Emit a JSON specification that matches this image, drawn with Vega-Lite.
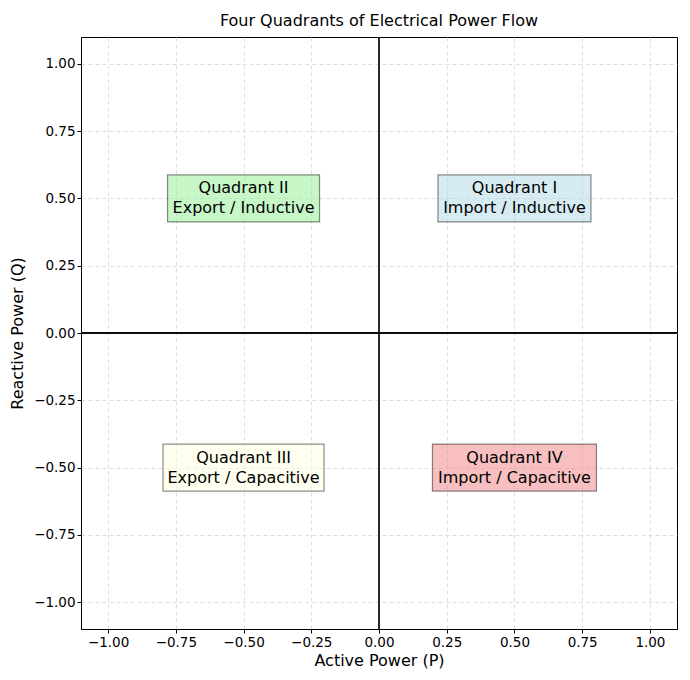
{
  "$schema": "https://vega.github.io/schema/vega-lite/v6.json",
  "width": 596,
  "height": 592,
  "autosize": "none",
  "padding": {"left": 81, "top": 37, "right": 13, "bottom": 51},
  "background": "white",
  "title": {
    "text": "Four Quadrants of Electrical Power Flow",
    "font": "DejaVu Sans", "fontSize": 16, "fontWeight": "normal", "color": "black",
    "offset": 7
  },
  "config": {
    "font": "DejaVu Sans",
    "view": {"stroke": "black", "strokeWidth": 1},
    "axis": {
      "domainColor": "black", "tickColor": "black", "tickSize": 4,
      "labelFont": "DejaVu Sans", "labelFontSize": 13.5, "labelColor": "black",
      "titleFont": "DejaVu Sans", "titleFontSize": 16, "titleFontWeight": "normal", "titleColor": "black",
      "gridColor": "#d6d6d6", "gridDash": [4, 3], "gridWidth": 0.8
    }
  },
  "data": {
    "values": [
      {"P": 0.5, "Q": 0.5, "quadrant": "I", "label": ["Quadrant I", "Import / Inductive"]},
      {"P": -0.5, "Q": 0.5, "quadrant": "II", "label": ["Quadrant II", "Export / Inductive"]},
      {"P": -0.5, "Q": -0.5, "quadrant": "III", "label": ["Quadrant III", "Export / Capacitive"]},
      {"P": 0.5, "Q": -0.5, "quadrant": "IV", "label": ["Quadrant IV", "Import / Capacitive"]}
    ]
  },
  "encoding": {
    "x": {"field": "P", "type": "quantitative", "scale": {"domain": [-1.1, 1.1], "nice": false, "zero": false},
          "title": "Active Power (P)",
          "axis": {"titlePadding": 4, "values": [-1, -0.75, -0.5, -0.25, 0, 0.25, 0.5, 0.75, 1],
                   "labelExpr": "replace(format(datum.value, '.2f'), '-', '\u2212')"}},
    "y": {"field": "Q", "type": "quantitative", "scale": {"domain": [-1.1, 1.1], "nice": false, "zero": false},
          "title": "Reactive Power (Q)",
          "axis": {"titlePadding": 8, "values": [-1, -0.75, -0.5, -0.25, 0, 0.25, 0.5, 0.75, 1],
                   "labelExpr": "replace(format(datum.value, '.2f'), '-', '\u2212')"}}
  },
  "layer": [
    {"mark": {"type": "rule", "color": "#222", "strokeWidth": 1.3, "opacity": 0.8}, "encoding": {"x": {"datum": 0}, "y": null}},
    {"mark": {"type": "rule", "color": "black", "strokeWidth": 1.2}, "encoding": {"y": {"datum": 0}, "x": null}},
    {"transform": [{"filter": "datum.quadrant === 'I'"}],
     "mark": {"type": "rect", "width": 153, "height": 47, "fill": "#add8e6", "fillOpacity": 0.5, "stroke": "#000", "strokeOpacity": 0.45, "strokeWidth": 1.2}},
    {"transform": [{"filter": "datum.quadrant === 'II'"}],
     "mark": {"type": "rect", "width": 152, "height": 47, "fill": "#90ee90", "fillOpacity": 0.5, "stroke": "#000", "strokeOpacity": 0.45, "strokeWidth": 1.2}},
    {"transform": [{"filter": "datum.quadrant === 'III'"}],
     "mark": {"type": "rect", "width": 161, "height": 47, "fill": "#ffffe0", "fillOpacity": 0.5, "stroke": "#000", "strokeOpacity": 0.45, "strokeWidth": 1.2}},
    {"transform": [{"filter": "datum.quadrant === 'IV'"}],
     "mark": {"type": "rect", "width": 164, "height": 47, "fill": "#f08080", "fillOpacity": 0.5, "stroke": "#000", "strokeOpacity": 0.45, "strokeWidth": 1.2}},
    {"mark": {"type": "text", "font": "DejaVu Sans", "fontSize": 16, "color": "black", "align": "center", "baseline": "middle", "lineHeight": 20, "dy": -10},
     "encoding": {"text": {"field": "label"}}}
  ]
}
